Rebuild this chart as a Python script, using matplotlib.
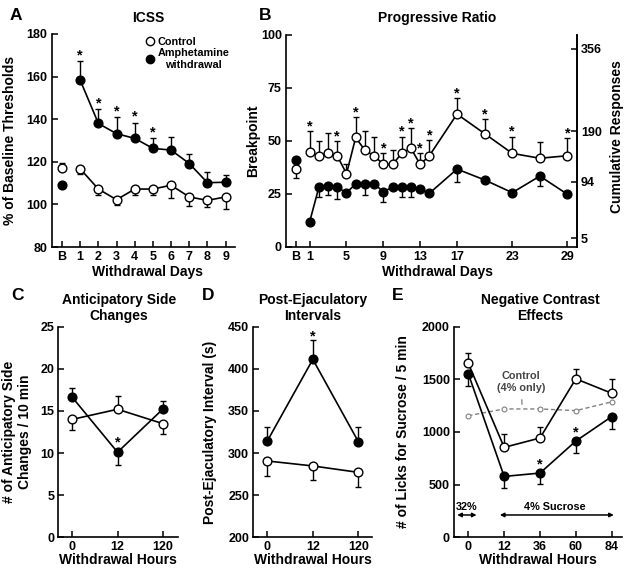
import numpy as np
import matplotlib
matplotlib.use('Agg')
import matplotlib.pyplot as plt
from matplotlib.lines import Line2D

plt.rcParams['font.family'] = ['Liberation Sans', 'DejaVu Sans']
plt.rcParams['font.weight'] = 'bold'
plt.rcParams['axes.labelweight'] = 'bold'

W, H = 631, 577

## Panel A : ICSS
a_labels = ['B', '1', '2', '3', '4', '5', '6', '7', '8', '9']
a_pos = np.arange(10)
a_ctrl = [117.2, 116.7, 107.2, 102.2, 107.2, 107.2, 109.0, 103.5, 101.9, 103.5]
a_ctrl_lo = [0, 2.2, 2.6, 2.7, 2.6, 2.6, 6.0, 4.1, 2.9, 5.7]
a_ctrl_hi = [2.3, 0, 0, 0, 0, 0, 0, 0, 0, 0]
a_amph = [109.0, 158.3, 138.0, 133.2, 131.0, 126.3, 125.5, 119.2, 110.2, 110.4]
a_amph_lo = [0, 0, 0, 0, 0, 0, 0, 0, 0, 0]
a_amph_hi = [0, 9.1, 6.7, 7.6, 7.4, 5.0, 6.3, 4.6, 5.1, 3.6]
a_stars = [1, 2, 3, 4, 5]

## Panel B : Progressive ratio
b_days = [1, 2, 3, 4, 5, 6, 7, 8, 9, 10, 11, 12, 13, 14, 17, 20, 23, 26, 29]
b_base_day = -0.5
b_ticks = [-0.5, 1, 5, 9, 13, 17, 23, 29]
b_ticklabels = ['B', '1', '5', '9', '13', '17', '23', '29']
b_ctrl = [44.6, 42.9, 44.1, 42.9, 34.5, 51.6, 45.5, 43.0, 38.9, 38.9,
          44.1, 46.5, 38.9, 43.0, 62.6, 53.4, 44.1, 41.8, 43.0]
b_ctrl_hi = [10.0, 7.0, 9.7, 7.0, 4.4, 9.5, 9.3, 9.0, 5.5, 6.8,
             7.9, 9.4, 5.5, 7.4, 7.7, 6.7, 7.9, 7.8, 8.2]
b_ctrl_base, b_ctrl_base_lo = 36.7, 4.4
b_amph = [11.9, 28.1, 28.9, 28.1, 25.6, 29.7, 29.5, 29.7, 26.1, 28.1,
          28.1, 28.1, 27.2, 25.3, 36.7, 31.6, 25.6, 33.4, 24.8]
b_amph_lo = [0, 4.4, 4.4, 5.5, 0, 0, 5.0, 0, 4.7, 0,
             4.7, 4.7, 0, 0, 5.9, 0, 0, 4.5, 0]
b_amph_base = 41.0
b_stars = [1, 4, 6, 9, 11, 12, 13, 14, 17, 20, 23, 29]
b_right_pos = [93.3, 54.6, 30.8, 4.2]
b_right_labels = ['356', '190', '94', '5']

## Panel C : anticipatory side changes
hours3 = ['0', '12', '120']
c_ctrl = [14.0, 15.2, 13.5]
c_ctrl_lo = [1.3, 0, 1.2]
c_ctrl_hi = [0, 1.6, 0]
c_amph = [16.6, 10.1, 15.2]
c_amph_lo = [0, 1.5, 0]
c_amph_hi = [1.15, 0, 1.0]

## Panel D : post-ejaculatory intervals
d_ctrl = [290.6, 284.7, 277.1]
d_ctrl_lo = [17.8, 16.7, 17.8]
d_amph = [314.3, 411.2, 313.5]
d_amph_hi = [17.0, 23.0, 17.8]

## Panel E : negative contrast
hours5 = ['0', '12', '36', '60', '84']
e_ctrl = [1651, 854, 943, 1505, 1368]
e_ctrl_hi = [101, 130, 105, 95, 131]
e_amph = [1553, 578, 610, 914, 1146]
e_amph_lo = [112, 111, 102, 114, 117]
e_ctrl4 = [1155, 1219, 1219, 1203, 1286]

TICK_FS = 9
LABEL_FS = 10


def box(l, t, r, b):
    # pixel box -> figure fraction
    return [l / W, 1 - b / H, (r - l) / W, (b - t) / H]


def style(ax):
    for s in ['top', 'right']:
        ax.spines[s].set_visible(False)
    for s in ['left', 'bottom']:
        ax.spines[s].set_linewidth(1.2)
    ax.tick_params(direction='in', length=4, width=1.1, labelsize=TICK_FS, pad=3)


def series(ax, x, y, lo, hi, filled, join=True):
    ax.errorbar(x, y, yerr=[lo, hi], fmt='none', ecolor='k', elinewidth=1.0,
                capsize=2.3, capthick=1.0, zorder=2)
    if join:
        ax.plot(x, y, '-', color='k', lw=1.2, zorder=3)
    ax.plot(x, y, 'o', ms=6.3, mfc='k' if filled else 'w', mec='k', mew=1.0,
            zorder=4, linestyle='none')


def stars(ax, xs, bases, off):
    for x, b in zip(xs, bases):
        ax.annotate('*', (x, b), xytext=(0, off), textcoords='offset points',
                    ha='center', va='baseline', fontsize=10.5, fontweight='bold')


fig = plt.figure(figsize=(W / 100, H / 100), dpi=100)

## A
ax = fig.add_axes(box(51.5, 34, 235.4, 247))
style(ax)
series(ax, a_pos[1:], a_amph[1:], a_amph_lo[1:], a_amph_hi[1:], True)
series(ax, a_pos[1:], a_ctrl[1:], a_ctrl_lo[1:], a_ctrl_hi[1:], False)
series(ax, a_pos[:1], a_amph[:1], a_amph_lo[:1], a_amph_hi[:1], True, join=False)
series(ax, a_pos[:1], a_ctrl[:1], a_ctrl_lo[:1], a_ctrl_hi[:1], False, join=False)
stars(ax, [a_pos[i] for i in a_stars], [a_amph[i] + a_amph_hi[i] for i in a_stars], 1.2)
ax.set_xlim(-0.58, 9.54)
ax.set_ylim(80, 180)
ax.set_yticks([80, 100, 120, 140, 160, 180])
ax.set_xticks(a_pos)
ax.set_xticklabels(a_labels)
ax.set_ylabel('% of Baseline Thresholds', fontsize=LABEL_FS)
ax.yaxis.set_label_coords(-0.19, 0.5)
ax.set_xlabel('Withdrawal Days', fontsize=LABEL_FS)
ax.xaxis.set_label_coords(0.52, -0.085)
hnd = [Line2D([], [], marker='o', ls='none', ms=6, mfc='w', mec='k', mew=1.0),
       Line2D([], [], marker='o', ls='none', ms=6, mfc='k', mec='k', mew=1.0)]
leg = ax.legend(hnd, ['Control', 'Amphetamine\nwithdrawal'], loc='upper left',
                bbox_to_anchor=(147 / W, 1 - 37 / H), bbox_transform=fig.transFigure,
                frameon=False, fontsize=7.8, handlelength=0.6, handletextpad=0.35,
                labelspacing=0.1, borderpad=0, borderaxespad=0)
for t in leg.get_texts():
    t.set_multialignment('center')

## B
ax = fig.add_axes(box(286, 34.7, 576.7, 247))
style(ax)
ax.spines['right'].set_visible(True)
ax.spines['right'].set_linewidth(1.2)
series(ax, b_days, b_amph, b_amph_lo, [0] * len(b_days), True)
series(ax, b_days, b_ctrl, [0] * len(b_days), b_ctrl_hi, False)
series(ax, [b_base_day], [b_amph_base], [0], [0], True, join=False)
series(ax, [b_base_day], [b_ctrl_base], [b_ctrl_base_lo], [0], False, join=False)
stars(ax, b_stars, [b_ctrl[b_days.index(d)] + b_ctrl_hi[b_days.index(d)] for d in b_stars], 0.5)
ax.set_xlim(-1.57, 30.0)
ax.set_ylim(0, 100)
ax.set_yticks([0, 25, 50, 75, 100])
ax.set_xticks(b_ticks)
ax.set_xticklabels(b_ticklabels)
ax.set_ylabel('Breakpoint', fontsize=LABEL_FS)
ax.yaxis.set_label_coords(-0.089, 0.5)
ax.set_xlabel('Withdrawal Days', fontsize=LABEL_FS)
ax.xaxis.set_label_coords(0.52, -0.085)
ax2 = ax.twinx()
ax2.set_ylim(0, 100)
for s in ['top', 'left', 'bottom']:
    ax2.spines[s].set_visible(False)
ax2.spines['right'].set_linewidth(1.2)
ax2.set_yticks(b_right_pos)
ax2.set_yticklabels(b_right_labels)
ax2.tick_params(direction='in', length=4, width=1.1, labelsize=TICK_FS, pad=3)
ax2.set_ylabel('Cumulative Responses', fontsize=LABEL_FS)
ax2.yaxis.set_label_coords(1.115, 0.52)

## C
ax = fig.add_axes(box(58.4, 326.7, 178, 537.3))
style(ax)
x3 = np.arange(3)
series(ax, x3, c_amph, c_amph_lo, c_amph_hi, True)
series(ax, x3, c_ctrl, c_ctrl_lo, c_ctrl_hi, False)
stars(ax, [1], [c_amph[1]], 4.0)
ax.set_xlim(-0.31, 2.34)
ax.set_ylim(0, 25)
ax.set_yticks([0, 5, 10, 15, 20, 25])
ax.set_xticks(x3)
ax.set_xticklabels(hours3)
ax.set_ylabel('# of Anticipatory Side\nChanges / 10 min', fontsize=LABEL_FS)
ax.yaxis.set_label_coords(-0.22, 0.5)
ax.set_xlabel('Withdrawal Hours', fontsize=LABEL_FS)
ax.xaxis.set_label_coords(0.5, -0.075)

## D
ax = fig.add_axes(box(253.2, 326.7, 372, 537.3))
style(ax)
series(ax, x3, d_amph, [0, 0, 0], d_amph_hi, True)
series(ax, x3, d_ctrl, d_ctrl_lo, [0, 0, 0], False)
stars(ax, [1], [d_amph[1] + d_amph_hi[1]], 0.0)
ax.set_xlim(-0.31, 2.3)
ax.set_ylim(200, 450)
ax.set_yticks([200, 250, 300, 350, 400, 450])
ax.set_xticks(x3)
ax.set_xticklabels(hours3)
ax.set_ylabel('Post-Ejaculatory Interval (s)', fontsize=LABEL_FS)
ax.yaxis.set_label_coords(-0.305, 0.5)
ax.set_xlabel('Withdrawal Hours', fontsize=LABEL_FS)
ax.xaxis.set_label_coords(0.5, -0.075)

## E
ax = fig.add_axes(box(454, 326.7, 621.7, 537.3))
style(ax)
x5 = np.arange(5)
ax.plot(x5, e_ctrl4, '--', color='#808080', lw=1.0, marker='o', ms=3.5,
        mfc='w', mec='#808080', mew=0.8, dashes=(3, 2), zorder=1)
series(ax, x5, e_amph, e_amph_lo, [0] * 5, True)
series(ax, x5, e_ctrl, [0] * 5, e_ctrl_hi, False)
stars(ax, [2, 3], [e_amph[2], e_amph[3]], 3.6)
ax.annotate('Control\n(4% only)', xy=(1.5, 1244), xytext=(1.47, 1475),
            ha='center', va='center', fontsize=7.8, color='#444444',
            arrowprops=dict(arrowstyle='-', color='#808080', lw=0.9, ls='--',
                            shrinkA=3, shrinkB=0))
ax.annotate('', xy=(-0.31, 212), xytext=(0.23, 212),
            arrowprops=dict(arrowstyle='<|-|>', color='k', lw=1.1,
                            mutation_scale=6, shrinkA=0, shrinkB=0))
ax.text(-0.05, 291, '32%', ha='center', va='center', fontsize=7.8)
ax.annotate('', xy=(0.88, 212), xytext=(4.06, 212),
            arrowprops=dict(arrowstyle='<|-|>', color='k', lw=1.1,
                            mutation_scale=6, shrinkA=0, shrinkB=0))
ax.text(2.4, 291, '4% Sucrose', ha='center', va='center', fontsize=7.8)
ax.set_xlim(-0.4, 4.28)
ax.set_ylim(0, 2000)
ax.set_yticks([0, 500, 1000, 1500, 2000])
ax.set_xticks(x5)
ax.set_xticklabels(hours5)
ax.set_ylabel('# of Licks for Sucrose / 5 min', fontsize=LABEL_FS)
ax.yaxis.set_label_coords(-0.262, 0.5)
ax.set_xlabel('Withdrawal Hours', fontsize=LABEL_FS)
ax.xaxis.set_label_coords(0.5, -0.075)

## titles and panel letters (pixel positions)
titles = [('ICSS', 148, 18), ('Progressive Ratio', 437, 18),
          ('Anticipatory Side\nChanges', 119, 308),
          ('Post-Ejaculatory\nIntervals', 313, 308),
          ('Negative Contrast\nEffects', 540, 308)]
for txt, x, y in titles:
    fig.text(x / W, 1 - y / H, txt, ha='center', va='center', fontsize=10,
             fontweight='bold', linespacing=1.1)
letters = [('A', 16, 15), ('B', 265, 15), ('C', 18, 296), ('D', 208, 296), ('E', 398, 296)]
for txt, x, y in letters:
    fig.text(x / W, 1 - y / H, txt, ha='center', va='center', fontsize=12.5,
             fontweight='bold')

fig.savefig('out.png', dpi=100)
